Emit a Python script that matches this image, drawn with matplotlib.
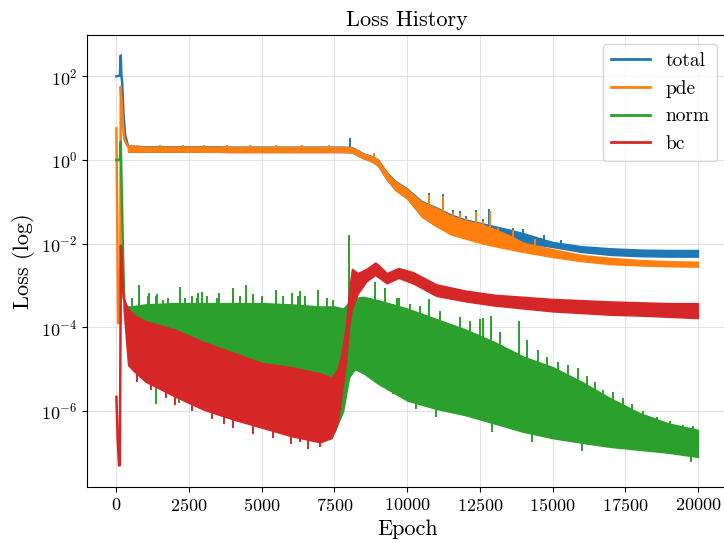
import numpy as np
import matplotlib
matplotlib.use("Agg")
import matplotlib.pyplot as plt

plt.rcParams["font.family"] = "serif"
plt.rcParams["font.serif"] = ["cmr10"]
plt.rcParams["mathtext.fontset"] = "cm"
plt.rcParams["axes.formatter.use_mathtext"] = True
plt.rcParams["axes.unicode_minus"] = False

## Data (log10 of the loss)
# first few hundred epochs: single traces
total_early_e = [0, 120, 150, 170, 200, 240, 300, 400]
total_early_v = [2.0, 2.02, 2.5, 2.05, 1.85, 1.15, 0.6, 0.34]
pde_early_e = [0, 30, 60, 130, 150, 185, 230, 270, 350, 400]
pde_early_v = [0.76, -1.5, -3.9, -3.9, 1.75, 1.3, 0.8, 0.5, 0.38, 0.33]
norm_early_e = [0, 120, 150, 185, 230, 265, 300]
norm_early_v = [0.0, 0.0, 0.44, -0.8, -2.3, -3.27, -3.6]
bc_early_e = [0, 40, 90, 115, 135, 155, 185, 250]
bc_early_v = [-5.66, -6.6, -7.3, -7.3, -5.0, -2.05, -2.6, -3.3]

# noisy part: lower / upper envelope of each curve, plus the visible spikes
pde_e = [400, 1000, 2000, 3000, 4000, 5000, 6000, 7000, 7800, 8100, 8500, 8800,
         9000, 9300, 9600, 10000, 10500, 11000, 11500, 12000, 12500, 13000,
         13500, 14000, 15000, 16000, 17000, 18000, 19000, 20000]
pde_hi = [0.34, 0.32, 0.32, 0.32, 0.31, 0.31, 0.31, 0.31, 0.31, 0.3, 0.15, 0.08,
          0.0, -0.3, -0.52, -0.7, -1.0, -1.15, -1.33, -1.45, -1.52, -1.65,
          -1.8, -1.98, -2.13, -2.27, -2.34, -2.39, -2.42, -2.43]
pde_lo = [0.2, 0.2, 0.2, 0.2, 0.19, 0.19, 0.19, 0.19, 0.19, 0.18, 0.04, -0.04,
          -0.14, -0.47, -0.72, -0.92, -1.35, -1.58, -1.78, -1.88, -1.98, -2.06,
          -2.13, -2.2, -2.32, -2.42, -2.49, -2.52, -2.54, -2.55]
pde_spike_e = [700, 1500, 2300, 3000, 3800, 4600, 5500, 6400, 7300,
               8850, 9640, 9810, 10100, 10750, 11110, 11245, 11590, 11820, 12015,
               12370, 12620, 12850, 13135, 13640, 14400]
pde_spike_v = [0.37, 0.36, 0.37, 0.35, 0.36, 0.35, 0.36, 0.35, 0.35,
               0.17, -0.55, -0.75, -0.87, -0.84, -1.22, -0.85, -1.24, -1.27, -1.39,
               -1.24, -1.46, -1.22, -1.63, -1.67, -1.9]

total_e = pde_e
total_hi = [0.35, 0.33, 0.33, 0.33, 0.32, 0.32, 0.32, 0.32, 0.32, 0.31, 0.16, 0.09,
            0.01, -0.29, -0.5, -0.68, -0.98, -1.13, -1.3, -1.42, -1.5, -1.58,
            -1.66, -1.75, -1.96, -2.06, -2.11, -2.14, -2.15, -2.15]
total_lo = [0.2, 0.2, 0.2, 0.2, 0.19, 0.19, 0.19, 0.19, 0.19, 0.18, 0.04, -0.04,
            -0.14, -0.47, -0.72, -0.92, -1.35, -1.58, -1.7, -1.78, -1.85, -1.9,
            -1.95, -1.98, -2.08, -2.2, -2.27, -2.3, -2.31, -2.31]
total_spike_e = [8036, 9640, 9810, 10100, 10750, 11110, 11245, 11590, 11820, 12015,
                 12370, 12620, 12820, 13135, 13640, 14000, 14700, 15300]
total_spike_v = [0.52, -0.52, -0.72, -0.84, -0.8, -1.18, -0.81, -1.2, -1.23, -1.35,
                 -1.2, -1.42, -1.17, -1.59, -1.63, -1.65, -1.8, -1.92]

norm_e = [300, 500, 1000, 2000, 3000, 4000, 5000, 6000, 7000, 7500, 7800, 8000,
          8200, 8500, 9000, 10000, 11000, 12000, 13000, 14000, 15000, 16000,
          17000, 18000, 19000, 20000]
norm_hi = [-3.5, -3.5, -3.45, -3.42, -3.42, -3.42, -3.42, -3.45, -3.5, -3.5, -3.55,
           -3.4, -3.3, -3.27, -3.35, -3.55, -3.8, -4.05, -4.35, -4.7, -4.95, -5.3,
           -5.7, -6.05, -6.3, -6.45]
norm_lo = [-3.9, -4.6, -5.2, -5.6, -5.8, -6.0, -6.1, -6.3, -6.4, -6.5, -6.0, -5.2,
           -5.0, -5.1, -5.35, -5.75, -5.95, -6.1, -6.3, -6.5, -6.65, -6.76, -6.86,
           -6.93, -7.0, -7.1]
norm_spike_e = [530, 790, 1100, 1135, 1365, 1390, 1617, 1790, 2190, 2360, 2590,
                2765, 2820, 2935, 3110, 3450, 3540, 4000, 4020, 4250, 4450, 4710,
                5000, 5490, 5740, 6030, 6260, 6320, 6490, 6950, 7235, 7460,
                8010, 8895, 9240, 9640, 9730, 10100, 10440, 10760, 11130, 11475,
                11820, 12160, 12500, 12600, 12885, 13195, 13860, 14110, 14510,
                14800, 15200, 15540, 15870, 16175, 16460, 16750, 17090, 17430,
                17720, 18120, 18580, 19040, 19500, 19840]
norm_spike_v = [-3.3, -2.99, -3.25, -3.19, -3.25, -3.2, -3.35, -3.3, -3.03, -3.3, -3.25,
                -3.3, -3.17, -3.15, -3.25, -3.3, -3.17, -3.05, -3.2, -3.25, -2.99, -3.2,
                -3.25, -3.1, -3.25, -3.17, -3.25, -3.12, -3.25, -3.1, -3.3, -3.35,
                -1.79, -2.91, -3.05, -3.3, -3.3, -3.45, -3.5, -3.33, -3.6, -4.01,
                -3.75, -3.85, -3.8, -3.78, -3.72, -4.1, -3.85, -4.3, -4.54,
                -4.7, -4.82, -4.9, -4.98, -5.16, -5.3, -5.5, -5.55, -5.7,
                -5.83, -6.0, -6.15, -6.25, -6.33, -6.35]
norm_dip_e = [1365, 2160, 9500, 10300, 11000, 12900, 14300, 16000, 19760]
norm_dip_v = [-5.83, -5.8, -5.6, -5.95, -6.15, -6.5, -6.75, -6.95, -7.23]

bc_e = [250, 400, 600, 1000, 2000, 3000, 4000, 5000, 6000, 7000, 7400, 7600, 7750,
        7900, 8000, 8100, 8300, 8600, 8900, 9000, 9300, 9700, 10200, 11000, 12000,
        13000, 14000, 15000, 16000, 17000, 18000, 19000, 20000]
bc_hi = [-3.3, -3.55, -3.7, -3.85, -4.05, -4.35, -4.6, -4.85, -4.95, -5.1, -5.2, -5.0,
         -4.6, -3.9, -3.1, -2.6, -2.7, -2.6, -2.45, -2.5, -2.7, -2.58, -2.68, -2.97,
         -3.12, -3.22, -3.27, -3.32, -3.35, -3.38, -3.4, -3.42, -3.42]
bc_lo = [-3.6, -4.9, -5.05, -5.3, -5.65, -5.97, -6.2, -6.4, -6.6, -6.75, -6.65, -6.3,
         -5.6, -4.8, -4.0, -3.55, -3.2, -2.9, -2.75, -2.8, -2.95, -2.82, -2.95, -3.25,
         -3.38, -3.48, -3.55, -3.62, -3.66, -3.7, -3.72, -3.75, -3.78]
bc_dip_e = [700, 1200, 1700, 2000, 2600, 3300, 3700, 4000, 4700, 5400, 6000, 6300,
            6600, 7000]
bc_dip_v = [-5.3, -5.5, -5.7, -5.85, -6.0, -6.2, -6.3, -6.4, -6.55, -6.65, -6.8, -6.75,
            -6.92, -6.85]


def draw(ax, color, z, label, early_e, early_v, e, lo, hi,
         spike_e=(), spike_v=(), dip_e=(), dip_v=()):
    lo = np.array(lo)
    hi = np.array(hi)
    ax.plot(early_e, 10 ** np.array(early_v), color=color, lw=1.8, zorder=z, label=label)
    ax.fill_between(e, 10 ** lo, 10 ** hi, facecolor=color, edgecolor=color,
                    lw=1.0, zorder=z)
    # spikes sticking out of the band (up and down)
    if len(spike_e):
        base = np.interp(spike_e, e, lo)
        ax.vlines(spike_e, 10 ** base, 10 ** np.array(spike_v), color=color,
                  lw=1.4, zorder=z)
    if len(dip_e):
        top = np.interp(dip_e, e, hi)
        ax.vlines(dip_e, 10 ** np.array(dip_v), 10 ** top, color=color,
                  lw=1.4, zorder=z)


fig = plt.figure(figsize=(7.24, 5.43), dpi=100)
ax = fig.add_axes([0.1206, 0.1026, 0.8836, 0.8335])

draw(ax, "tab:blue", 2, "total", total_early_e, total_early_v,
     total_e, total_lo, total_hi, total_spike_e, total_spike_v)
draw(ax, "tab:orange", 3, "pde", pde_early_e, pde_early_v,
     pde_e, pde_lo, pde_hi, pde_spike_e, pde_spike_v)
draw(ax, "tab:green", 4, "norm", norm_early_e, norm_early_v,
     norm_e, norm_lo, norm_hi, norm_spike_e, norm_spike_v, norm_dip_e, norm_dip_v)
draw(ax, "tab:red", 5, "bc", bc_early_e, bc_early_v,
     bc_e, bc_lo, bc_hi, dip_e=bc_dip_e, dip_v=bc_dip_v)

ax.set_yscale("log")
ax.set_xlim(-1000, 21000)
ax.set_ylim(1.5e-8, 9.9e2)
ax.set_xticks(np.arange(0, 20001, 2500))
ax.set_yticks([1e-6, 1e-4, 1e-2, 1e0, 1e2])
ax.minorticks_off()
ax.tick_params(labelsize=13)
ax.grid(True, color="#dddddd", lw=0.8, alpha=0.8)
ax.set_axisbelow(True)

ax.set_title("Loss History", fontsize=16)
ax.set_xlabel("Epoch", fontsize=16)
ax.set_ylabel("Loss (log)", fontsize=16)
leg = ax.legend(loc="upper right", fontsize=14)
for line in leg.get_lines():
    line.set_linewidth(2)

fig.savefig("out.png", dpi=100)
